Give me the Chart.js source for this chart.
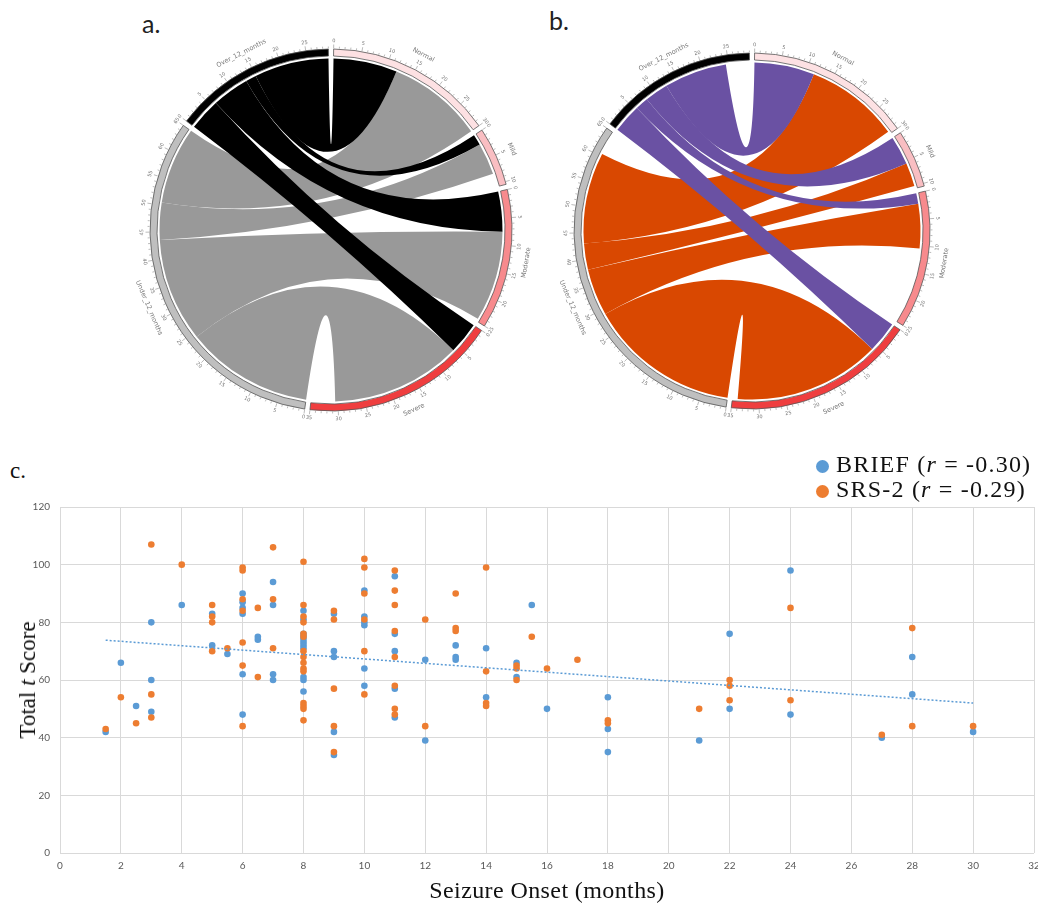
<!DOCTYPE html>
<html>
<head>
<meta charset="utf-8">
<script src="https://cdn.jsdelivr.net/npm/chart.js@4.4.1/dist/chart.umd.min.js"></script>
<style>
  body { margin: 0; background: #fff; width: 1038px; height: 906px; position: relative; overflow: hidden; }
  canvas, .txt { position: absolute; }
  .panel { font-family: Lato, "Open Sans", sans-serif; font-size: 25px; color: #222; }
  .serif { font-family: "Liberation Serif", "DejaVu Serif", serif; font-size: 23px; color: #111; white-space: nowrap; }
  .legend { font-size: 24px; letter-spacing: 1.2px; }
  .row { height: 25px; line-height: 25px; }
  .dot { display: inline-block; width: 13px; height: 13px; border-radius: 50%; margin-right: 7px; vertical-align: -1px; }
</style>
</head>
<body>
<div class="txt panel" style="left:142px;top:8px">a.</div>
<div class="txt panel" style="left:549px;top:5px">b.</div>
<div class="txt serif" style="left:10px;top:458px">c.</div>

<canvas id="chordA" width="440" height="440" style="left:111px;top:10px"></canvas>
<canvas id="chordB" width="440" height="440" style="left:532px;top:11px"></canvas>
<canvas id="scatter" width="1038" height="411" style="left:0;top:495px"></canvas>

<div class="txt serif legend" style="left:816px;top:452px">
  <div class="row"><span class="dot" style="background:#5B9BD5"></span>BRIEF (<i>r</i> = -0.30)</div>
  <div class="row"><span class="dot" style="background:#ED7D31"></span>SRS-2 (<i>r</i> = -0.29)</div>
</div>
<div class="txt serif" style="left:547px;top:877px;font-size:24px;letter-spacing:0.4px;transform:translateX(-50%)">Seizure Onset (months)</div>
<div class="txt serif" style="left:28px;top:680px;transform:translate(-50%,-50%) rotate(-90deg)">Total <i>t</i> Score</div>

<script>
// chord sectors (severity groups first, then onset groups)
const sectorNames = ['Normal', 'Mild', 'Moderate', 'Severe', 'Under_12_months', 'Over_12_months'];
const sectorSizes = [30, 10.5, 25, 35, 65, 29];

// links: onset group -> severity group
const linkSource = ['Over_12_months', 'Over_12_months', 'Over_12_months', 'Over_12_months',
                    'Under_12_months', 'Under_12_months', 'Under_12_months', 'Under_12_months'];
const linkTarget = ['Severe', 'Moderate', 'Mild', 'Normal', 'Severe', 'Moderate', 'Mild', 'Normal'];

// a. BRIEF link widths at each end
const briefOnsetWidth = [6, 7, 2, 14, 24, 19.5, 7, 14.5];
const briefSeverityWidth = [6, 7.5, 2, 12, 24.5, 17, 6, 18];

// b. SRS-2 link widths at each end
const srsOnsetWidth = [5.5, 2.5, 4.5, 12, 29, 9, 5, 17.5];
const srsSeverityWidth = [6, 2, 5.5, 11.5, 28, 8.5, 4.5, 18];

// c. scatter
const briefMonths = [1.5, 2, 2.5, 3, 3, 3, 4, 5, 5, 5.5,
  6, 6, 6, 6, 6, 6, 6.5, 6.5, 7, 7, 7, 7,
  8, 8, 8, 8, 8, 8, 8, 8, 8, 8, 8,
  9, 9, 9, 9, 9, 10, 10, 10, 10, 10, 10, 11, 11, 11, 11, 11,
  12, 12, 13, 13, 13, 14, 14, 15, 15, 15.5, 16, 18, 18, 18,
  21, 22, 22, 24, 24, 27, 28, 28, 30];
const briefScores = [42, 66, 51, 80, 60, 49, 86, 83, 72, 69,
  90, 87, 85, 83, 62, 48, 75, 74, 94, 86, 62, 60,
  84, 81, 76, 75, 74, 73, 72, 71, 61, 60, 56,
  83, 70, 68, 42, 34, 91, 82, 80, 79, 64, 58, 96, 76, 70, 57, 47,
  67, 39, 72, 68, 67, 71, 54, 66, 61, 86, 50, 54, 43, 35,
  39, 76, 50, 98, 48, 40, 68, 55, 42];

const srsMonths = [1.5, 2, 2.5, 3, 3, 3, 4, 5, 5, 5, 5, 5.5,
  6, 6, 6, 6, 6, 6, 6, 6.5, 6.5, 7, 7, 7,
  8, 8, 8, 8, 8, 8, 8, 8, 8, 8, 8, 8, 8, 8, 8,
  9, 9, 9, 9, 9, 10, 10, 10, 10, 10, 10,
  11, 11, 11, 11, 11, 11, 11, 11, 12, 12, 13, 13, 13,
  14, 14, 14, 14, 15, 15, 15, 15.5, 16, 17, 18, 18,
  21, 22, 22, 22, 24, 24, 27, 28, 28, 30];
const srsScores = [43, 54, 45, 107, 55, 47, 100, 86, 82, 80, 70, 71,
  99, 98, 88, 84, 73, 65, 44, 85, 61, 106, 88, 71,
  101, 86, 82, 80, 76, 75, 70, 68, 66, 64, 63, 52, 51, 50, 46,
  84, 81, 57, 44, 35, 102, 99, 90, 81, 70, 55,
  98, 91, 86, 77, 68, 58, 50, 48, 81, 44, 90, 78, 77,
  99, 63, 52, 51, 65, 64, 60, 75, 64, 67, 46, 45,
  50, 60, 58, 53, 85, 53, 41, 78, 44, 44];

// BRIEF linear trendline end points
const trendMonths = [1.5, 30];
const trendScores = [73.8, 52.0];

const sectorColors = ['#fde1e3', '#f9bec2', '#f78a8d', '#ef3e3f', '#bfbfbf', '#000000'];
const GAP = 0.93;

function pointAt(cx, cy, r, a) {
  return [cx + r * Math.cos(a), cy + r * Math.sin(a)];
}

// text that follows the circle, flipped on the lower half
function circleText(ctx, text, cx, cy, r, a, size) {
  const p = pointAt(cx, cy, r, a);
  ctx.save();
  ctx.translate(p[0], p[1]);
  ctx.rotate(Math.sin(a) > 0.02 ? a - Math.PI / 2 : a + Math.PI / 2);
  ctx.font = size + 'px "DejaVu Sans", sans-serif';
  ctx.textAlign = 'center';
  ctx.textBaseline = 'middle';
  ctx.fillText(text, 0, 0);
  ctx.restore();
}

function makeChord(id, onsetWidth, severityWidth, overColor, underColor, outerR) {
  const ringData = [];
  const ringColors = [];
  const ringBorder = [];
  const ringLabels = [];
  sectorSizes.forEach((s, i) => {
    ringData.push(s, GAP);
    ringColors.push(sectorColors[i], 'rgba(0,0,0,0)');
    ringBorder.push(0.8, 0);
    ringLabels.push(sectorNames[i], '');
  });
  const total = ringData.reduce((a, b) => a + b, 0);

  const angleAt = (arcs, sector, u) => {
    const arc = arcs[sector * 2];
    return arc.startAngle + (arc.endAngle - arc.startAngle) * u / sectorSizes[sector];
  };

  const chordPlugin = {
    id: 'chord',
    beforeDatasetsDraw(chart) {
      const arcs = chart.getDatasetMeta(0).data;
      const cx = arcs[0].x, cy = arcs[0].y;
      const r = arcs[0].innerRadius - 2.5;
      const used = sectorSizes.map(() => 0);
      const shapes = linkSource.map((src, i) => {
        const s = sectorNames.indexOf(src);
        const t = sectorNames.indexOf(linkTarget[i]);
        const a1 = angleAt(arcs, s, used[s]);
        used[s] += onsetWidth[i];
        const a2 = angleAt(arcs, s, used[s]);
        const b1 = angleAt(arcs, t, used[t]);
        used[t] += severityWidth[i];
        const b2 = angleAt(arcs, t, used[t]);
        return { over: src === 'Over_12_months', a1, a2, b1, b2 };
      });
      const ctx = chart.ctx;
      ctx.save();
      // under 12 months ribbons go below
      shapes.slice().reverse().forEach(sh => {
        ctx.beginPath();
        ctx.arc(cx, cy, r, sh.a1, sh.a2);
        const pb = pointAt(cx, cy, r, sh.b1);
        ctx.quadraticCurveTo(cx, cy, pb[0], pb[1]);
        ctx.arc(cx, cy, r, sh.b1, sh.b2);
        const pa = pointAt(cx, cy, r, sh.a1);
        ctx.quadraticCurveTo(cx, cy, pa[0], pa[1]);
        ctx.closePath();
        ctx.fillStyle = sh.over ? overColor : underColor;
        ctx.fill();
      });
      ctx.restore();
    },
    afterDatasetsDraw(chart) {
      const arcs = chart.getDatasetMeta(0).data;
      const cx = arcs[0].x, cy = arcs[0].y;
      const R = arcs[0].outerRadius;
      const ctx = chart.ctx;
      ctx.save();
      ctx.strokeStyle = '#777';
      ctx.fillStyle = '#777';
      ctx.lineWidth = 0.5;
      sectorNames.forEach((name, i) => {
        for (let u = 0; u <= sectorSizes[i]; u++) {
          const a = angleAt(arcs, i, u);
          const len = u % 5 === 0 ? 4 : 2;
          const p1 = pointAt(cx, cy, R + 0.5, a);
          const p2 = pointAt(cx, cy, R + 0.5 + len, a);
          ctx.beginPath();
          ctx.moveTo(p1[0], p1[1]);
          ctx.lineTo(p2[0], p2[1]);
          ctx.stroke();
          if (u % 5 === 0) circleText(ctx, String(u), cx, cy, R + 8, a, 5);
        }
        const mid = angleAt(arcs, i, sectorSizes[i] / 2);
        circleText(ctx, name, cx, cy, R + 17, mid, 6.5);
      });
      ctx.restore();
    }
  };

  return new Chart(document.getElementById(id), {
    type: 'doughnut',
    data: {
      labels: ringLabels,
      datasets: [{
        data: ringData,
        backgroundColor: ringColors,
        borderColor: '#555',
        borderWidth: ringBorder
      }]
    },
    options: {
      responsive: false,
      animation: false,
      events: [],
      devicePixelRatio: 1,
      radius: outerR,
      cutout: ((outerR - 7) / outerR * 100) + '%',
      rotation: GAP / total * 180,
      layout: { padding: 0 },
      plugins: { legend: { display: false }, tooltip: { enabled: false } }
    },
    plugins: [chordPlugin]
  });
}

makeChord('chordA', briefOnsetWidth, briefSeverityWidth, '#000000', '#999999', 181);
makeChord('chordB', srsOnsetWidth, srsSeverityWidth, '#6a51a3', '#d94801', 178);

// scatter plot
const toPoints = (xs, ys) => xs.map((x, i) => ({ x: x, y: ys[i] }));
const tickFont = { family: 'Lato, "Open Sans", sans-serif', size: 10 };

new Chart(document.getElementById('scatter'), {
  type: 'scatter',
  data: {
    datasets: [
      {
        label: 'BRIEF',
        data: toPoints(briefMonths, briefScores),
        backgroundColor: '#5B9BD5',
        borderWidth: 0,
        pointRadius: 3.3,
        order: 2
      },
      {
        label: 'SRS-2',
        data: toPoints(srsMonths, srsScores),
        backgroundColor: '#ED7D31',
        borderWidth: 0,
        pointRadius: 3.3,
        order: 1
      },
      {
        type: 'line',
        label: 'BRIEF trend',
        data: toPoints(trendMonths, trendScores),
        borderColor: '#5B9BD5',
        borderWidth: 1.5,
        borderDash: [2, 2],
        pointRadius: 0,
        fill: false,
        order: 0
      }
    ]
  },
  options: {
    responsive: false,
    animation: false,
    events: [],
    devicePixelRatio: 1,
    layout: { padding: { top: 12, right: 4, left: 0, bottom: 0 } },
    plugins: { legend: { display: false }, tooltip: { enabled: false } },
    scales: {
      x: {
        type: 'linear',
        min: 0,
        max: 32,
        ticks: { stepSize: 2, color: '#595959', font: tickFont, padding: 7 },
        grid: { color: '#d9d9d9', drawTicks: false },
        border: { display: false },
        afterFit(scale) { scale.height = 53; scale.paddingLeft = 0; scale.paddingRight = 0; }
      },
      y: {
        min: 0,
        max: 120,
        ticks: { stepSize: 20, color: '#595959', font: tickFont, padding: 10 },
        grid: { color: '#d9d9d9', drawTicks: false },
        border: { display: false },
        afterFit(scale) { scale.width = 60; scale.paddingTop = 0; scale.paddingBottom = 0; }
      }
    }
  }
});
</script>
</body>
</html>
